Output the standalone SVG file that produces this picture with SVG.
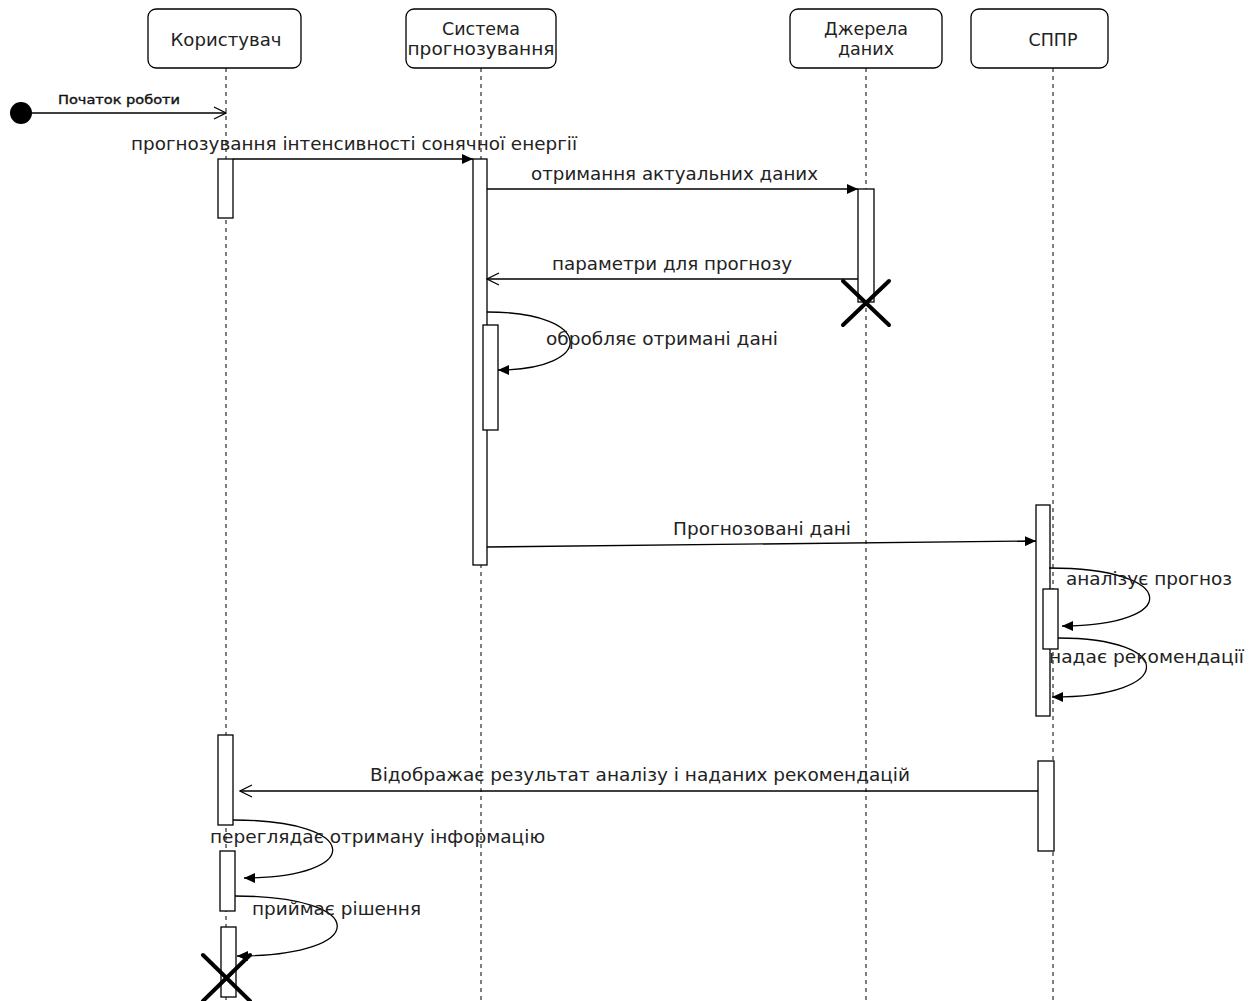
<svg xmlns="http://www.w3.org/2000/svg" width="1260" height="1001" viewBox="0 0 1260 1001">
<style>
.head{fill:#fff;stroke:#000;stroke-width:1.3}
.life{stroke:#000;stroke-width:1;stroke-dasharray:4,4;fill:none}
.act{fill:#fff;stroke:#000;stroke-width:1.3}
.msg{stroke:#000;stroke-width:1.3;fill:none}
.t{font-family:"DejaVu Sans","Noto Sans",sans-serif;font-size:17px;fill:#222}
.h{font-family:"DejaVu Sans","Noto Sans",sans-serif;font-size:17.5px;fill:#222;text-anchor:middle}
.x{stroke:#000;stroke-width:4;stroke-linecap:round}
</style>
<defs>
<marker id="fill" markerWidth="12" markerHeight="10" refX="11" refY="5" orient="auto" markerUnits="userSpaceOnUse">
<path d="M0,0 L11,5 L0,10 Z" fill="#000"/>
</marker>
<marker id="open" markerWidth="14" markerHeight="14" refX="13" refY="7" orient="auto" markerUnits="userSpaceOnUse">
<path d="M1,1 L13,7 L1,13" fill="none" stroke="#000" stroke-width="1.3"/>
</marker>
</defs>
<rect width="1260" height="1001" fill="#fff"/>
<g id="lifelines">
<line class="life" x1="226" y1="68" x2="226" y2="1001"/>
<line class="life" x1="481" y1="68" x2="481" y2="1001"/>
<line class="life" x1="866" y1="68" x2="866" y2="1001"/>
<line class="life" x1="1053" y1="68" x2="1053" y2="1001"/>
</g>
<g id="user">
<rect class="head" x="148" y="9" width="153" height="59" rx="8"/>
<text class="h" x="226" y="46" textLength="111" lengthAdjust="spacingAndGlyphs">Користувач</text>
</g>
<g id="system">
<rect class="head" x="406" y="9" width="150" height="59" rx="8"/>
<text class="h" x="481" y="35">Система</text>
<text class="h" x="481" y="55" textLength="147" lengthAdjust="spacingAndGlyphs">прогнозування</text>
</g>
<g id="sources">
<rect class="head" x="790" y="9" width="152" height="59" rx="8"/>
<text class="h" x="866" y="35">Джерела</text>
<text class="h" x="866" y="55">даних</text>
</g>
<g id="sppr">
<rect class="head" x="971" y="9" width="137" height="59" rx="8"/>
<text class="h" x="1053" y="46">СППР</text>
</g>
<g id="activations">
<rect class="act" x="218" y="159" width="15" height="59"/>
<rect class="act" x="473" y="159" width="14" height="406"/>
<rect class="act" x="858" y="189" width="16" height="113"/>
<rect class="act" x="483" y="325" width="15" height="105"/>
<rect class="act" x="1036" y="505" width="14" height="211"/>
<rect class="act" x="1043" y="589" width="15" height="60"/>
<rect class="act" x="218" y="735" width="15" height="90"/>
<rect class="act" x="1038" y="761" width="16" height="90"/>
<rect class="act" x="220" y="851" width="15" height="60"/>
<rect class="act" x="221" y="927" width="15" height="70"/>
</g>
<g id="start">
<circle cx="21" cy="113" r="11" fill="#000"/>
</g>
<g id="connectors">
<line class="msg" x1="32" y1="113" x2="226" y2="113" marker-end="url(#open)"/>
<line class="msg" x1="233" y1="159" x2="473" y2="159" marker-end="url(#fill)"/>
<line class="msg" x1="487" y1="189" x2="858" y2="189" marker-end="url(#fill)"/>
<line class="msg" x1="858" y1="279" x2="487" y2="279" marker-end="url(#open)"/>
<path class="msg" d="M487,312 C596,312 596,370 498,370" marker-end="url(#fill)"/>
<line class="msg" x1="487" y1="547" x2="1036" y2="541" marker-end="url(#fill)"/>
<path class="msg" d="M1049,568 C1181,568 1181,626 1062,626" marker-end="url(#fill)"/>
<path class="msg" d="M1058,638 C1177,638 1177,697 1052,697" marker-end="url(#fill)"/>
<line class="msg" x1="1038" y1="791" x2="240" y2="791" marker-end="url(#open)"/>
<path class="msg" d="M233,820 C364,820 364,878 244,878" marker-end="url(#fill)"/>
<path class="msg" d="M235,896 C371,896 371,956 237,956" marker-end="url(#fill)"/>
</g>
<g id="labels">
<text x="58" y="104" font-family="'DejaVu Sans Condensed','DejaVu Sans',sans-serif" font-size="13" fill="#111" stroke="#111" stroke-width="0.35" textLength="122" lengthAdjust="spacingAndGlyphs">Початок роботи</text>
<text class="t" x="131" y="150" textLength="446" lengthAdjust="spacingAndGlyphs">прогнозування інтенсивності сонячної енергії</text>
<text class="t" x="531" y="180" textLength="287" lengthAdjust="spacingAndGlyphs">отримання актуальних даних</text>
<text class="t" x="552" y="270" textLength="240" lengthAdjust="spacingAndGlyphs">параметри для прогнозу</text>
<text class="t" x="546" y="345" textLength="232" lengthAdjust="spacingAndGlyphs">обробляє отримані дані</text>
<text class="t" x="673" y="535" textLength="178" lengthAdjust="spacingAndGlyphs">Прогнозовані дані</text>
<text class="t" x="1066" y="585" textLength="166" lengthAdjust="spacingAndGlyphs">аналізує прогноз</text>
<text class="t" x="1049" y="663" textLength="195" lengthAdjust="spacingAndGlyphs">надає рекомендації</text>
<text class="t" x="370" y="781" textLength="540" lengthAdjust="spacingAndGlyphs">Відображає результат аналізу і наданих рекомендацій</text>
<text class="t" x="210" y="843" textLength="335" lengthAdjust="spacingAndGlyphs">переглядає отриману інформацію</text>
<text class="t" x="252" y="915" textLength="169" lengthAdjust="spacingAndGlyphs">приймає рішення</text>
</g>
<g id="destroy">
<line class="x" x1="843" y1="281" x2="889" y2="325"/>
<line class="x" x1="843" y1="325" x2="889" y2="281"/>
<line class="x" x1="203" y1="955" x2="250" y2="1001"/>
<line class="x" x1="203" y1="1001" x2="250" y2="955"/>
</g>
</svg>
